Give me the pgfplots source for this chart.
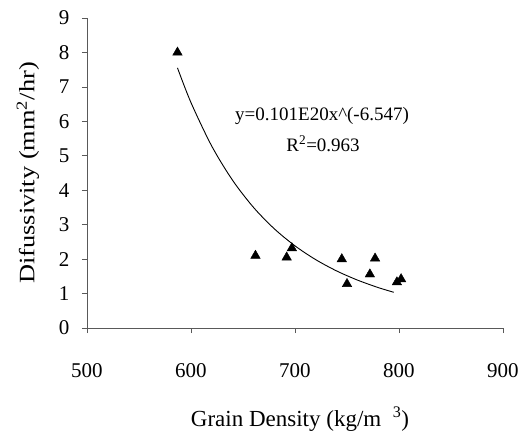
\documentclass[border=0pt]{standalone}
\usepackage{fontspec}
\setmainfont{Liberation Serif}
\newfontfamily\stretchserif[FakeStretch=1.2]{Liberation Serif}
\usepackage{pgfplots}
\pgfplotsset{compat=1.18}
\begin{document}
\begin{tikzpicture}
\useasboundingbox (-87pt,-114pt) rectangle (441pt,328pt);
\begin{axis}[
  at={(0pt,0pt)}, anchor=south west,
  width=416pt, height=310pt, scale only axis,
  xmin=500, xmax=900, ymin=0, ymax=9,
  xtick={500,600,700,800,900},
  ytick={0,1,2,3,4,5,6,7,8,9},
  axis x line=bottom, axis y line=left,
  axis line style={-, black!65, line width=0.6pt},
  tick style={black!65, line width=0.6pt},
  tick align=outside,
  major tick length=5pt,
  /pgf/number format/assume math mode=true,
  /pgf/number format/1000 sep={},
  ticklabel style={font=\fontsize{21}{25}\selectfont},
  xticklabel shift=27pt,
  yticklabel shift=9pt,
  xlabel={Grain Density (kg/m\ \ \textsuperscript{3})},
  ylabel={\stretchserif Difussivity (mm\textsuperscript{2}/hr)},
  xlabel style={font=\fontsize{23}{27}\selectfont, at={(axis description cs:0.512,-0.295)}, anchor=center},
  ylabel style={font=\fontsize{22}{26}\selectfont, at={(axis description cs:-0.142,0.5)}, anchor=center},
  clip=false,
]
\addplot[black, line width=0.9pt, smooth] coordinates {
  (587,7.552) (600,6.543) (620,5.278) (640,4.288) (660,3.505) (680,2.883)
  (700,2.385) (720,1.983) (740,1.657) (760,1.392) (780,1.174) (795,1.037)
};
\addplot[only marks, mark=triangle*, mark size=5.5pt, black] coordinates {
  (587,8.0) (662,2.1) (692,2.05) (697,2.32) (745,2.0) (750,1.28)
  (772,1.56) (777,2.02) (798,1.33) (802,1.42)
};
\node[font=\fontsize{19}{23}\selectfont] at (axis cs:726,6.16) {y=0.101E20x\textasciicircum(-6.547)};
\node[font=\fontsize{19}{23}\selectfont] at (axis cs:727,5.35) {R\textsuperscript{2}=0.963};
\end{axis}
\end{tikzpicture}
\end{document}
